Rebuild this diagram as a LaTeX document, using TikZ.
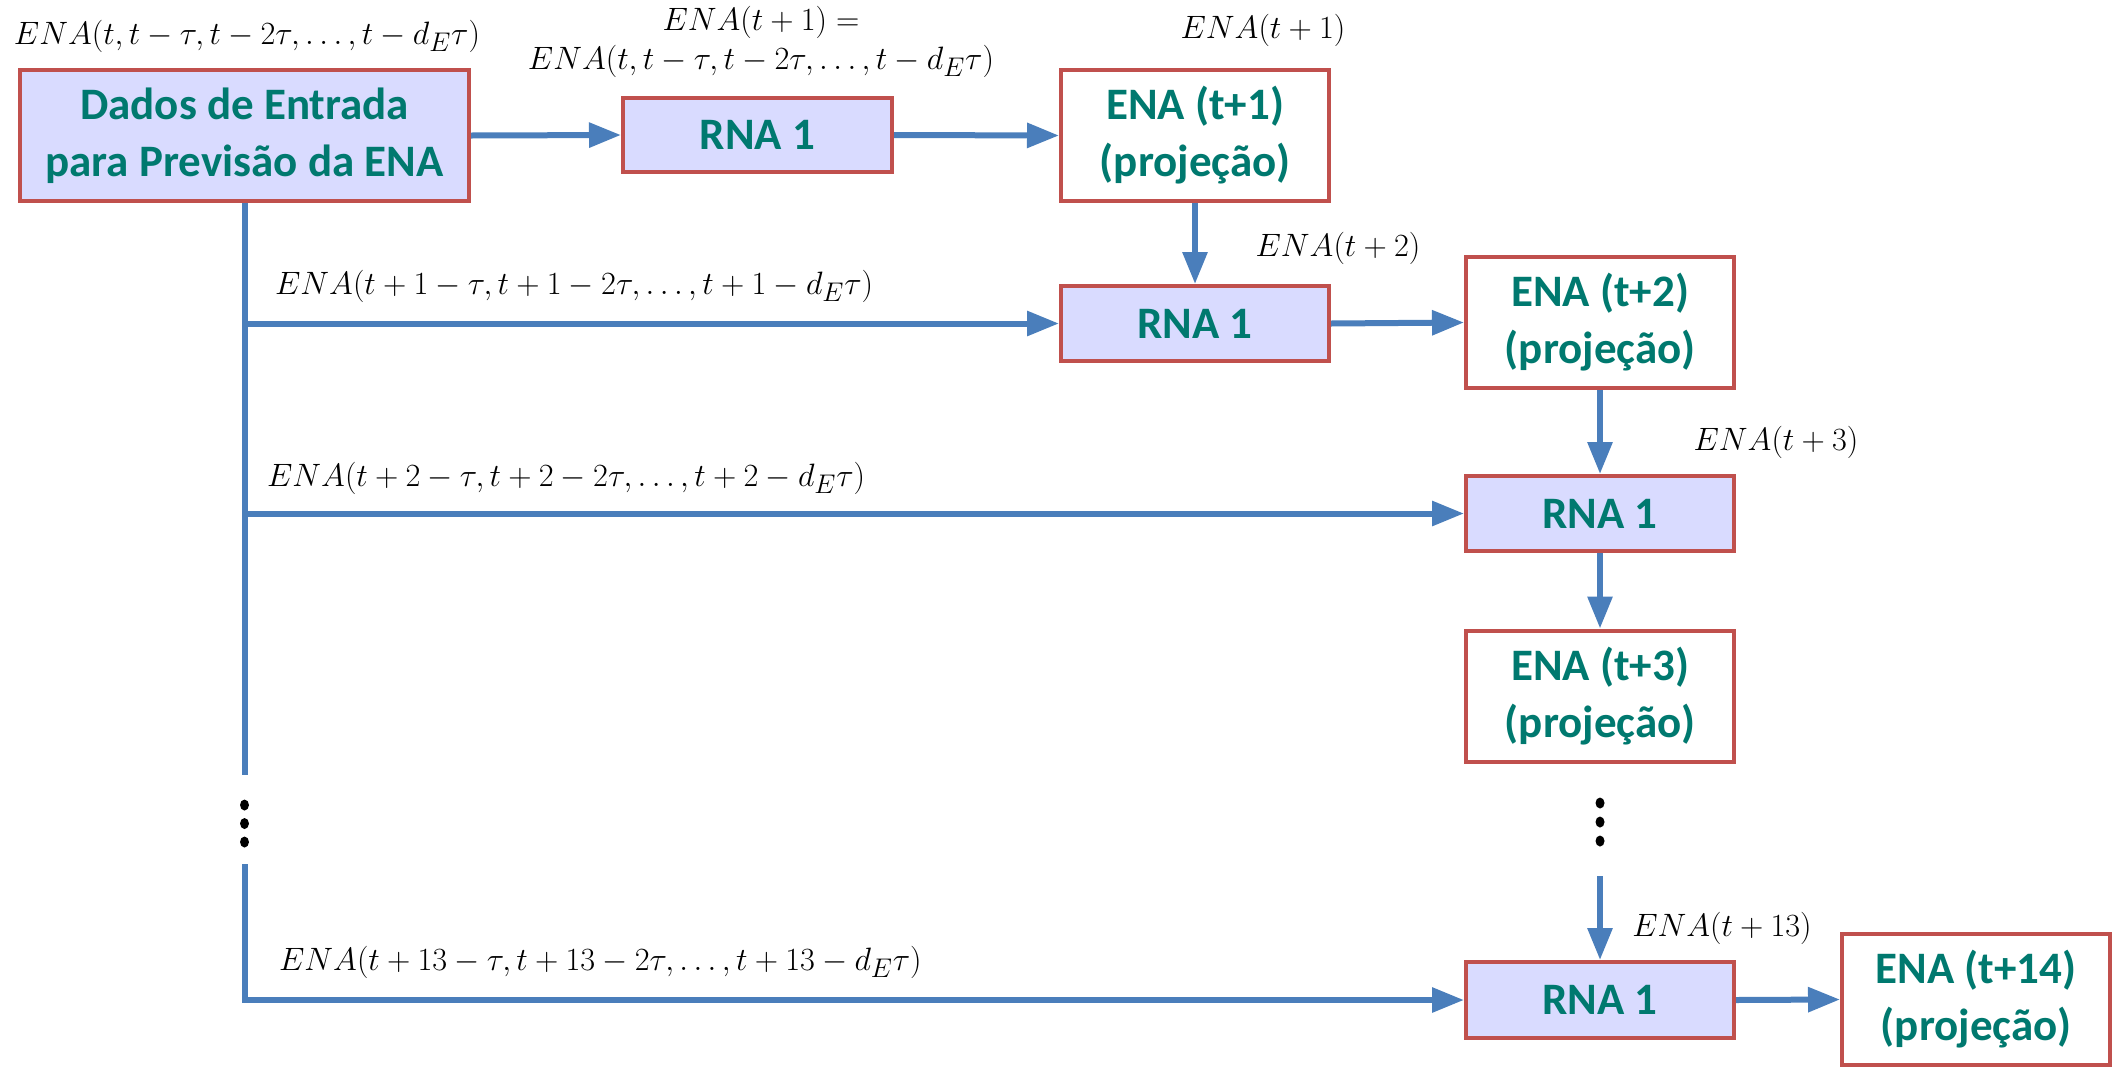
\documentclass[tikz,border=0pt]{standalone}
\usepackage{graphicx}
\usepackage[no-math]{fontspec}
\newfontfamily\carl{Carlito}
\usetikzlibrary{arrows.meta}
\definecolor{boxred}{HTML}{C0504D}
\definecolor{boxfill}{HTML}{D9DBFF}
\definecolor{tealtxt}{HTML}{00796F}
\definecolor{arrblue}{HTML}{4A7EBB}
\newcommand{\mlab}[1]{\scalebox{1.3}{$#1$}}
\tikzset{
  basebox/.style={draw=boxred, line width=4pt, align=center, text=tealtxt,
    font=\carl\bfseries\fontsize{45}{57}\selectfont, inner sep=0pt,
    minimum width=268pt},
  inbox/.style={basebox, fill=boxfill},
  outbox/.style={basebox, fill=white, minimum height=131pt},
  rnabox/.style={inbox, minimum height=75pt},
  conn/.style={draw=arrblue, line width=6pt},
  arr/.style={conn, -{Triangle[length=32pt,width=24pt]}},
  lbl/.style={font=\fontsize{24.88}{30}\selectfont, inner sep=0pt, align=center},
  dotc/.style={fill=black}
}
\begin{document}
\begin{tikzpicture}[x=1pt,y=-1pt]
\useasboundingbox (0,0) rectangle (2113,1066);
% boxes
\node[inbox, minimum width=449pt, minimum height=131pt] (dados) at (244.5,135.5) {Dados de Entrada\\para Previsão da ENA};
\node[rnabox, minimum width=269pt, minimum height=74pt] (rna1) at (757.5,135) {RNA 1};
\node[outbox] (ena1) at (1195,135.5) {ENA (t+1)\\(projeção)};
\node[rnabox] (rna2) at (1195,323.5) {RNA 1};
\node[outbox] (ena2) at (1600,322.5) {ENA (t+2)\\(projeção)};
\node[rnabox] (rna3) at (1600,513.5) {RNA 1};
\node[outbox] (ena3) at (1600,696) {ENA (t+3)\\(projeção)};
\node[rnabox, minimum height=76pt] (rna4) at (1600,1000) {RNA 1};
\node[outbox] (ena14) at (1976,999.5) {ENA (t+14)\\(projeção)};
% coordinates
\coordinate (t1) at (244.5,775);
\coordinate (t2) at (244.5,864);
\coordinate (b2) at (244.5,323.5);
\coordinate (b3) at (244.5,513.5);
\coordinate (c13) at (1600,876);
% connectors
\draw[arr] (dados.east) -- (rna1.west);
\draw[arr] (rna1.east) -- (ena1.west);
\draw[arr] (ena1.south) -- (rna2.north);
\draw[arr] (rna2.east) -- (ena2.west);
\draw[arr] (ena2.south) -- (rna3.north);
\draw[arr] (rna3.south) -- (ena3.north);
\draw[arr] (c13) -- (rna4.north);
\draw[arr] (rna4.east) -- (ena14.west);
\draw[conn] (dados.south) -- (t1);
\draw[arr] (b2) -- (rna2.west);
\draw[arr] (b3) -- (rna3.west);
\draw[arr] (t2) |- (rna4.west);
% dots
\foreach \yy in {805,823.5,842} {
  \fill[dotc] (244.5,\yy) ellipse (4.5pt and 5.5pt);
}
\foreach \yy in {803,822,841} {
  \fill[dotc] (1600,\yy) ellipse (4.5pt and 5.5pt);
}
% labels
\node[lbl] (l0) at (247,36) {\mlab{ENA(t,t-\tau,t-2\tau,\dots,t-d_E\tau)}};
\node[lbl] (l1a) at (761,22) {\mlab{ENA(t+1) =}};
\node[lbl] (l1b) at (761,61) {\mlab{ENA(t,t-\tau,t-2\tau,\dots,t-d_E\tau)}};
\node[lbl] (l2) at (1263,30) {\mlab{ENA(t+1)}};
\node[lbl] (l3) at (1338,248) {\mlab{ENA(t+2)}};
\node[lbl] (l4) at (1776,442) {\mlab{ENA(t+3)}};
\node[lbl] (l5) at (1722,928) {\mlab{ENA(t+13)}};
\node[lbl, anchor=west] (r2) at (275,286) {\mlab{ENA(t+1-\tau,t+1-2\tau,\dots,t+1-d_E\tau)}};
\node[lbl, anchor=west] (r3) at (267,478) {\mlab{ENA(t+2-\tau,t+2-2\tau,\dots,t+2-d_E\tau)}};
\node[lbl, anchor=west] (r4) at (279,962) {\mlab{ENA(t+13-\tau,t+13-2\tau,\dots,t+13-d_E\tau)}};
\end{tikzpicture}
\end{document}
